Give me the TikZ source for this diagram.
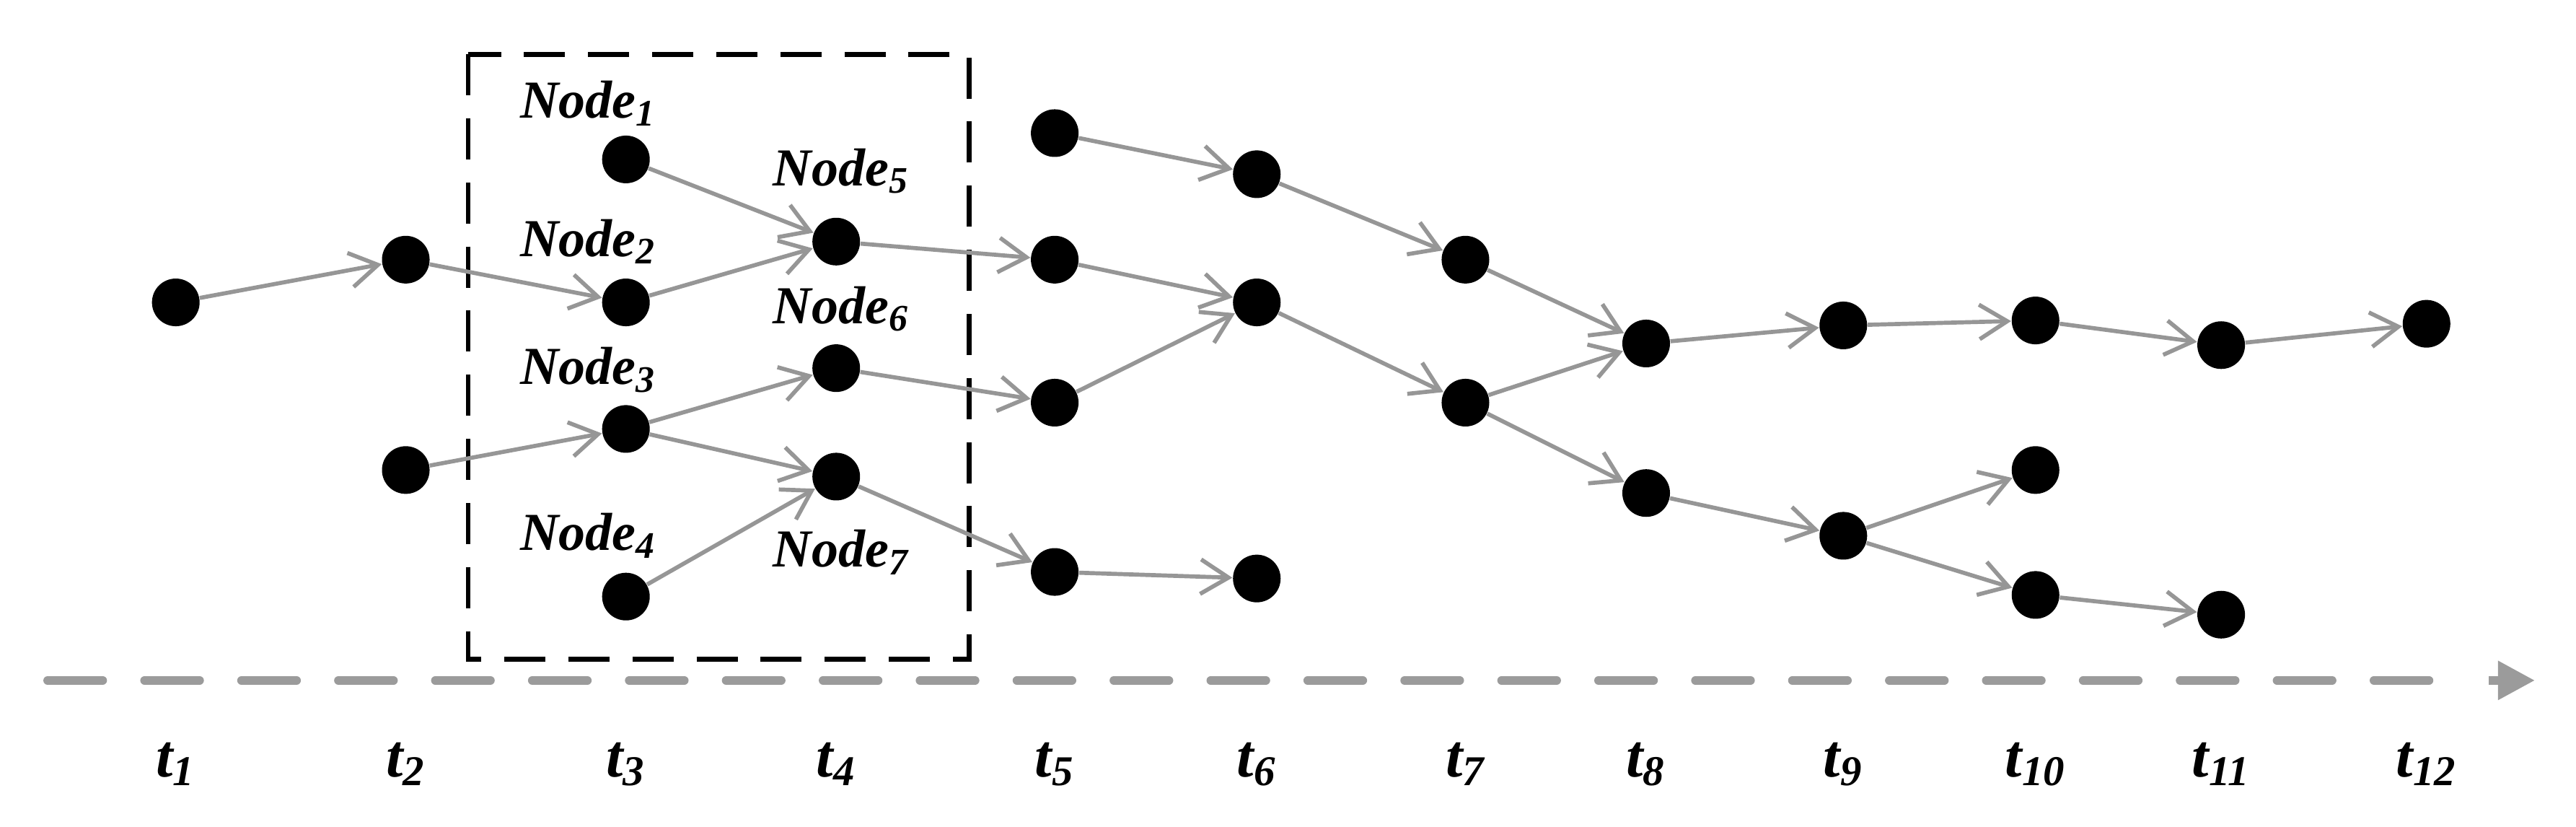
\documentclass[tikz,border=0pt]{standalone}
\usepackage{fontspec}
\setmainfont{Liberation Serif}
\usetikzlibrary{positioning, arrows.meta}
\definecolor{edgegray}{RGB}{150,150,150}
\definecolor{axisgray}{RGB}{155,155,155}

\begin{document}
\begin{tikzpicture}[x=0.2mm,y=-0.2mm,
    dot/.style={circle,fill=black,draw=none,inner sep=0pt,minimum size=5.8mm},
    lab/.style={font=\fontsize{18.5}{20}\selectfont\bfseries\itshape,inner sep=0pt},
    tlab/.style={font=\fontsize{21}{23}\selectfont\bfseries\itshape,inner sep=0pt},
    edge/.style={draw=edgegray,line width=0.5mm,-{Straight Barb[length=3.4mm,width=4.2mm]}}]
            \useasboundingbox (0,0) rectangle (1568,503);
            % dashed frame round the nodes of t3 and t4
            \draw[line width=0.6mm,dash pattern=on 5mm off 2.8mm] (285,33) rectangle (590,401);

            % time axis
            \coordinate (ax0) at (29,414);
            \coordinate (ax1) at (1543,414);
            \draw[axisgray,line width=1.05mm,line cap=round,dash pattern=on 6.7mm off 5.1mm] (ax0) -- (1500,414);
            \draw[axisgray,line width=1.05mm,-{Triangle[length=4.5mm,width=4.5mm]}] (1515,414) -- (ax1);

            % nodes, column by column
            \node[dot] (1a) at (107,184) {};
            \node[dot] (2a) at (247,158) {};
            \node[dot] (2b) at (247,286) {};
            \node[dot] (3a) at (381,97) {};
            \node[dot] (3b) at (381,184) {};
            \node[dot] (3c) at (381,261) {};
            \node[dot] (3d) at (381,363) {};
            \node[dot] (4a) at (509,147) {};
            \node[dot] (4b) at (509,224) {};
            \node[dot] (4c) at (509,290) {};
            \node[dot] (5a) at (642,81) {};
            \node[dot] (5b) at (642,158) {};
            \node[dot] (5c) at (642,245) {};
            \node[dot] (5d) at (642,348) {};
            \node[dot] (6a) at (765,106) {};
            \node[dot] (6b) at (765,184) {};
            \node[dot] (6c) at (765,352) {};
            \node[dot] (7a) at (892,158) {};
            \node[dot] (7b) at (892,245) {};
            \node[dot] (8a) at (1002,209) {};
            \node[dot] (8b) at (1002,300) {};
            \node[dot] (9a) at (1122,198) {};
            \node[dot] (9b) at (1122,326) {};
            \node[dot] (10a) at (1239,195) {};
            \node[dot] (10b) at (1239,286) {};
            \node[dot] (10c) at (1239,362) {};
            \node[dot] (11a) at (1352,210) {};
            \node[dot] (11b) at (1352,374) {};
            \node[dot] (12a) at (1477,197) {};

            \node[lab] (l1) at (358,63) {Node\textsubscript{1}};
            \node[lab] (l2) at (358,147) {Node\textsubscript{2}};
            \node[lab] (l3) at (358,225) {Node\textsubscript{3}};
            \node[lab] (l4) at (358,326) {Node\textsubscript{4}};
            \node[lab] (l5) at (512,104) {Node\textsubscript{5}};
            \node[lab] (l6) at (512,188) {Node\textsubscript{6}};
            \node[lab] (l7) at (512,336) {Node\textsubscript{7}};

            \foreach \i/\x in {1/107,2/247,3/381,4/509,5/642,6/765,7/892,8/1002,9/1122,10/1239,11/1352,12/1477}
                \node[tlab] (t\i) at (\x,465) {t\textsubscript{\i}};

            \draw[edge] (1a) -- (2a);
            \draw[edge] (2a) -- (3b);
            \draw[edge] (2b) -- (3c);
            \draw[edge] (3a) -- (4a);
            \draw[edge] (3b) -- (4a);
            \draw[edge] (3c) -- (4b);
            \draw[edge] (3c) -- (4c);
            \draw[edge] (3d) -- (4c);
            \draw[edge] (4a) -- (5b);
            \draw[edge] (4b) -- (5c);
            \draw[edge] (4c) -- (5d);
            \draw[edge] (5a) -- (6a);
            \draw[edge] (5b) -- (6b);
            \draw[edge] (5c) -- (6b);
            \draw[edge] (5d) -- (6c);
            \draw[edge] (6a) -- (7a);
            \draw[edge] (6b) -- (7b);
            \draw[edge] (7a) -- (8a);
            \draw[edge] (7b) -- (8a);
            \draw[edge] (7b) -- (8b);
            \draw[edge] (8a) -- (9a);
            \draw[edge] (8b) -- (9b);
            \draw[edge] (9a) -- (10a);
            \draw[edge] (9b) -- (10b);
            \draw[edge] (9b) -- (10c);
            \draw[edge] (10a) -- (11a);
            \draw[edge] (10c) -- (11b);
            \draw[edge] (11a) -- (12a);
        \end{tikzpicture}
\end{document}
